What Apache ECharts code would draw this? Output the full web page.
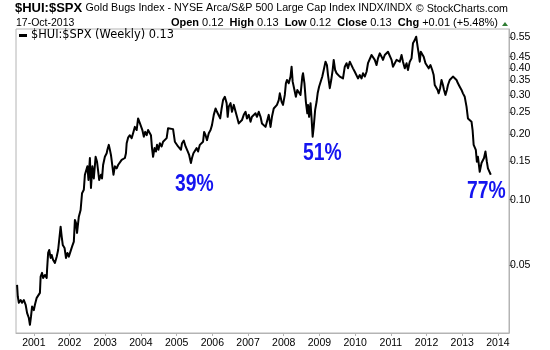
<!DOCTYPE html>
<html>
<head>
<meta charset="utf-8">
<script src="https://cdn.jsdelivr.net/npm/echarts@6/dist/echarts.min.js"></script>
<style>
  html, body { margin: 0; padding: 0; background: #fff; }
  #chart { width: 550px; height: 350px; }
</style>
</head>
<body>
<div id="chart"></div>
<script>
// Weekly $HUI:$SPX ratio, dates as decimal years
const timeline = [
  2000.53, 2000.55, 2000.58, 2000.63, 2000.67, 2000.72, 2000.77, 2000.81, 2000.86, 2000.89,
  2000.92, 2000.95, 2001.00, 2001.03, 2001.08, 2001.11, 2001.17, 2001.19, 2001.23, 2001.26,
  2001.31, 2001.36, 2001.37, 2001.40, 2001.43, 2001.47, 2001.50, 2001.54, 2001.59, 2001.64,
  2001.68, 2001.73, 2001.75, 2001.78, 2001.81, 2001.86, 2001.90, 2001.94, 2001.98, 2002.03,
  2002.07, 2002.12, 2002.15, 2002.18, 2002.21, 2002.26, 2002.31, 2002.35, 2002.40, 2002.43,
  2002.48, 2002.50, 2002.53, 2002.57, 2002.60, 2002.64, 2002.68, 2002.73, 2002.77, 2002.83,
  2002.88, 2002.91, 2002.94, 2002.99, 2003.04, 2003.06, 2003.10, 2003.13, 2003.16, 2003.19,
  2003.23, 2003.27, 2003.32, 2003.36, 2003.41, 2003.46, 2003.50, 2003.55, 2003.58, 2003.60,
  2003.64, 2003.69, 2003.74, 2003.78, 2003.83, 2003.88, 2003.92, 2003.95, 2003.99, 2004.02,
  2004.04, 2004.08, 2004.12, 2004.16, 2004.20, 2004.25, 2004.28, 2004.31, 2004.34, 2004.38,
  2004.42, 2004.45, 2004.49, 2004.53, 2004.58, 2004.62, 2004.67, 2004.72, 2004.76, 2004.81,
  2004.90, 2004.95, 2005.00, 2005.04, 2005.09, 2005.12, 2005.15, 2005.20, 2005.25, 2005.31,
  2005.35, 2005.40, 2005.43, 2005.47, 2005.51, 2005.56, 2005.60, 2005.65, 2005.70, 2005.74,
  2005.77, 2005.81, 2005.85, 2005.90, 2005.95, 2005.99, 2006.04, 2006.09, 2006.13, 2006.18,
  2006.22, 2006.26, 2006.30, 2006.35, 2006.40, 2006.43, 2006.46, 2006.51, 2006.55, 2006.60,
  2006.65, 2006.69, 2006.74, 2006.79, 2006.83, 2006.88, 2006.93, 2006.97, 2007.02, 2007.07,
  2007.11, 2007.16, 2007.21, 2007.25, 2007.30, 2007.35, 2007.39, 2007.44, 2007.49, 2007.53,
  2007.58, 2007.63, 2007.67, 2007.72, 2007.77, 2007.81, 2007.86, 2007.89, 2007.94, 2007.98,
  2008.03, 2008.06, 2008.09, 2008.14, 2008.19, 2008.22, 2008.25, 2008.29, 2008.34, 2008.38,
  2008.42, 2008.47, 2008.52, 2008.54, 2008.58, 2008.62, 2008.66, 2008.68, 2008.71, 2008.75,
  2008.78, 2008.81, 2008.84, 2008.88, 2008.92, 2008.95, 2008.99, 2009.04, 2009.08, 2009.12,
  2009.17, 2009.21, 2009.24, 2009.29, 2009.33, 2009.37, 2009.40, 2009.44, 2009.48, 2009.52,
  2009.57, 2009.62, 2009.66, 2009.71, 2009.76, 2009.80, 2009.85, 2009.90, 2009.94, 2009.99,
  2010.04, 2010.08, 2010.13, 2010.18, 2010.22, 2010.27, 2010.32, 2010.36, 2010.41, 2010.46,
  2010.50, 2010.55, 2010.60, 2010.64, 2010.69, 2010.74, 2010.78, 2010.83, 2010.88, 2010.92,
  2010.97, 2011.02, 2011.06, 2011.11, 2011.16, 2011.20, 2011.25, 2011.30, 2011.34, 2011.39,
  2011.44, 2011.48, 2011.53, 2011.58, 2011.62, 2011.67, 2011.71, 2011.75, 2011.78, 2011.81,
  2011.84, 2011.88, 2011.92, 2011.97, 2012.02, 2012.06, 2012.11, 2012.16, 2012.20, 2012.23,
  2012.28, 2012.31, 2012.34, 2012.38, 2012.42, 2012.46, 2012.49, 2012.53, 2012.57, 2012.60,
  2012.65, 2012.70, 2012.74, 2012.79, 2012.84, 2012.88, 2012.93, 2012.98, 2013.02, 2013.07,
  2013.12, 2013.16, 2013.21, 2013.26, 2013.29, 2013.32, 2013.35, 2013.38, 2013.41, 2013.44,
  2013.49, 2013.54, 2013.58, 2013.61, 2013.65, 2013.69, 2013.72, 2013.76, 2013.80
];

const ratioValues = [
  0.0408, 0.0361, 0.0338, 0.0348, 0.0338, 0.0348, 0.0331, 0.0304, 0.0288, 0.0268,
  0.0292, 0.0325, 0.0313, 0.0331, 0.0356, 0.0361, 0.0375, 0.0445, 0.0463, 0.0439,
  0.0453, 0.0439, 0.0478, 0.0571, 0.0589, 0.0542, 0.0559, 0.0530, 0.0514, 0.0549,
  0.0589, 0.0595, 0.0753, 0.0678, 0.0621, 0.0602, 0.0542, 0.0571, 0.0549, 0.0559,
  0.0610, 0.0643, 0.0808, 0.0783, 0.0705, 0.0836, 0.0897, 0.107, 0.111, 0.130,
  0.132, 0.142, 0.123, 0.155, 0.113, 0.142, 0.125, 0.157, 0.149, 0.123,
  0.130, 0.125, 0.144, 0.157, 0.163, 0.169, 0.178, 0.169, 0.160, 0.163,
  0.130, 0.142, 0.139, 0.144, 0.147, 0.152, 0.149, 0.155, 0.163, 0.181,
  0.192, 0.197, 0.191, 0.201, 0.215, 0.208, 0.235, 0.239, 0.219, 0.223,
  0.208, 0.194, 0.204, 0.197, 0.208, 0.212, 0.197, 0.172, 0.157, 0.172,
  0.166, 0.178, 0.169, 0.181, 0.175, 0.184, 0.181, 0.191, 0.212, 0.213,
  0.210, 0.184, 0.181, 0.175, 0.178, 0.169, 0.181, 0.186, 0.175, 0.166,
  0.160, 0.147, 0.155, 0.163, 0.166, 0.172, 0.166, 0.178, 0.175, 0.184,
  0.204, 0.197, 0.187, 0.201, 0.208, 0.219, 0.244, 0.261, 0.252, 0.257,
  0.235, 0.261, 0.285, 0.295, 0.276, 0.239, 0.266, 0.276, 0.252, 0.271,
  0.266, 0.239, 0.223, 0.227, 0.231, 0.244, 0.252, 0.235, 0.244, 0.227,
  0.239, 0.235, 0.248, 0.239, 0.252, 0.239, 0.223, 0.227, 0.215, 0.219,
  0.244, 0.215, 0.239, 0.261, 0.257, 0.271, 0.285, 0.306, 0.280, 0.271,
  0.301, 0.340, 0.352, 0.340, 0.365, 0.405, 0.346, 0.340, 0.295, 0.317,
  0.323, 0.301, 0.365, 0.378, 0.340, 0.280, 0.248, 0.271, 0.239, 0.276,
  0.235, 0.194, 0.215, 0.257, 0.280, 0.306, 0.328, 0.323, 0.365, 0.391,
  0.427, 0.412, 0.371, 0.323, 0.352, 0.391, 0.435, 0.391, 0.378, 0.384,
  0.365, 0.371, 0.358, 0.405, 0.420, 0.398, 0.427, 0.435, 0.398, 0.384,
  0.391, 0.358, 0.371, 0.358, 0.378, 0.365, 0.384, 0.420, 0.427, 0.458,
  0.466, 0.435, 0.412, 0.442, 0.466, 0.450, 0.435, 0.458, 0.466, 0.474,
  0.467, 0.435, 0.405, 0.412, 0.435, 0.442, 0.427, 0.458, 0.427, 0.398,
  0.420, 0.391, 0.427, 0.442, 0.518, 0.536, 0.555, 0.500, 0.466, 0.427,
  0.474, 0.483, 0.450, 0.420, 0.420, 0.398, 0.412, 0.391, 0.371, 0.334,
  0.340, 0.317, 0.306, 0.323, 0.352, 0.334, 0.317, 0.301, 0.317, 0.334,
  0.352, 0.346, 0.365, 0.358, 0.352, 0.340, 0.328, 0.317, 0.306, 0.295,
  0.266, 0.235, 0.231, 0.227, 0.208, 0.178, 0.175, 0.169, 0.149, 0.157,
  0.134, 0.147, 0.144, 0.155, 0.166, 0.149, 0.139, 0.137, 0.130
];

// Axis tick labels
const priceTicks = [0.05, 0.10, 0.15, 0.20, 0.25, 0.30, 0.35, 0.40, 0.45, 0.50, 0.55];
const yearTicks = [2001, 2002, 2003, 2004, 2005, 2006, 2007, 2008, 2009, 2010, 2011, 2012, 2013, 2014];

// Drawdown annotations
const drawdownLabels = ['39%', '51%', '77%'];

const seriesName = '$HUI:$SPX (Weekly) 0.13';
const points = timeline.map((t, i) => [t, ratioValues[i]]);

const FONT = '"Liberation Sans", Arial, Helvetica, sans-serif';
const BORDER = '#b4b4b4';
const BLUE = '#1414f0';

// Bold percentage callout, squeezed horizontally
function callout(text, x, y) {
  return {
    type: 'text', x: x, y: y, scaleX: 0.84, scaleY: 1,
    style: { text: text, fontFamily: FONT, fontSize: 23, fontWeight: 'bold', fill: BLUE, verticalAlign: 'middle' }
  };
}

const chart = echarts.init(document.getElementById('chart'), null, { renderer: 'canvas' });

chart.setOption({
  animation: false,
  backgroundColor: '#ffffff',
  grid: {
    left: 16, right: 41, top: 29, bottom: 17,
    show: true, borderColor: BORDER, borderWidth: 1, backgroundColor: 'transparent'
  },
  legend: {
    show: true,
    left: 19, top: 30, padding: 0,
    icon: 'rect', itemWidth: 8, itemHeight: 3, itemGap: 4,
    textStyle: { fontFamily: '"DejaVu Sans", Verdana, sans-serif', fontSize: 11.4, color: '#000', padding: [0, 0, 0, -1] },
    data: [seriesName]
  },
  xAxis: {
    type: 'value',
    min: 2000.5, max: 2014.31,
    axisLine: { show: true, lineStyle: { color: BORDER, width: 1 } },
    axisTick: { show: true, length: 3, customValues: yearTicks, lineStyle: { color: BORDER } },
    axisLabel: {
      customValues: yearTicks, formatter: v => String(v),
      showMinLabel: true, showMaxLabel: true, hideOverlap: false,
      margin: 5, fontFamily: FONT, fontSize: 10.5, color: '#000'
    },
    splitLine: { show: false }
  },
  yAxis: {
    type: 'log', logBase: 10,
    position: 'right',
    min: 0.0246, max: 0.602,
    axisLine: { show: true, lineStyle: { color: BORDER, width: 1 } },
    axisTick: { show: true, length: 4, customValues: priceTicks, lineStyle: { color: '#888' } },
    axisLabel: {
      customValues: priceTicks, formatter: v => Number(v).toFixed(2),
      showMinLabel: true, showMaxLabel: true, hideOverlap: false,
      margin: 1, fontFamily: FONT, fontSize: 10.5, color: '#000'
    },
    splitLine: { show: false },
    minorTick: { show: false }
  },
  series: [{
    name: seriesName,
    type: 'line',
    data: points,
    showSymbol: false,
    symbol: 'none',
    sampling: null,
    lineStyle: { color: '#000', width: 2, join: 'round' },
    itemStyle: { color: '#000' },
    z: 3
  }],
  graphic: [
    {
      type: 'text', left: 15, top: 2,
      style: {
        text: '{h|$HUI:$SPX} {n|Gold Bugs Index - NYSE Arca/S&P 500 Large Cap Index INDX/INDX}',
        rich: {
          h: { fontFamily: FONT, fontSize: 13, fontWeight: 'bold', fill: '#000' },
          n: { fontFamily: FONT, fontSize: 10.7, fill: '#000' }
        }
      }
    },
    {
      type: 'text', right: 42, top: 4,
      style: { text: '\u00a9 StockCharts.com', fontFamily: FONT, fontSize: 10.7, fill: '#000' }
    },
    {
      type: 'text', left: 16, top: 18,
      style: { text: '17-Oct-2013', fontFamily: FONT, fontSize: 10.5, fill: '#000' }
    },
    {
      type: 'text', right: 52, top: 17,
      style: {
        text: '{b|Open} 0.12  {b|High} 0.13  {b|Low} 0.12  {b|Close} 0.13  {b|Chg} +0.01 (+5.48%)',
        fontFamily: FONT, fontSize: 11, fill: '#000',
        rich: { b: { fontFamily: FONT, fontSize: 11, fontWeight: 'bold', fill: '#000' } }
      }
    },
    {
      type: 'polygon',
      shape: { points: [[502, 26], [508, 26], [505, 22]] },
      style: { fill: '#2e7d32' }
    },
    callout(drawdownLabels[0], 175, 185),
    callout(drawdownLabels[1], 303, 154),
    callout(drawdownLabels[2], 467, 192)
  ]
});
</script>
</body>
</html>
